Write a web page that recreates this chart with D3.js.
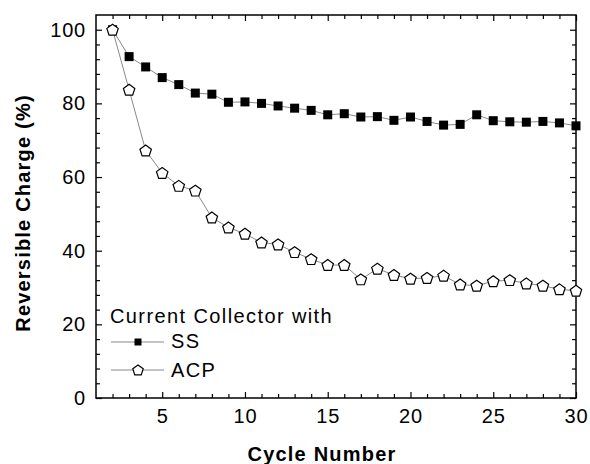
<!DOCTYPE html>
<meta charset="utf-8">
<style>

body {
  margin: 0;
  background: #fff;
}

text {
  font-family: "Liberation Sans", Arial, Helvetica, sans-serif;
  fill: #000;
}

.tick text {
  font-size: 20px;
  letter-spacing: 0.8px;
}

.domain {
  display: none;
}

.tick line {
  stroke: #000;
  stroke-width: 1.2px;
}

.series {
  fill: none;
  stroke: #6a6a6a;
  stroke-width: 0.8px;
}

.title {
  font-weight: bold;
  font-size: 20px;
  letter-spacing: 1.2px;
  text-anchor: middle;
}

.legend {
  font-size: 20px;
  letter-spacing: 1.4px;
}

</style>
<svg width=590 height=464></svg>
<script src='https://cdn.jsdelivr.net/npm/d3@7'></script>
<script>

// Cycle numbers 2..30
const cycles = [2, 3, 4, 5, 6, 7, 8, 9, 10, 11, 12, 13, 14, 15, 16,
                17, 18, 19, 20, 21, 22, 23, 24, 25, 26, 27, 28, 29, 30];

const ssValues = [100, 92.7, 89.9, 87.0, 85.1, 82.8, 82.5, 80.3, 80.4, 80.0, 79.3, 78.7, 78.1, 76.9, 77.2,
                  76.3, 76.4, 75.4, 76.3, 75.1, 74.1, 74.3, 76.9, 75.3, 75.0, 74.9, 75.1, 74.7, 73.9];

const acpValues = [100, 83.7, 67.2, 61.1, 57.6, 56.3, 49.0, 46.3, 44.6, 42.2, 41.7, 39.6, 37.7, 36.1, 36.1,
                   32.2, 35.1, 33.4, 32.4, 32.6, 33.2, 30.8, 30.5, 31.7, 32.0, 31.1, 30.5, 29.5, 29.1];

const xMajor = [5, 10, 15, 20, 25, 30];
const yMajor = [0, 20, 40, 60, 80, 100];
const seriesNames = ["SS", "ACP"];

const plotLeft = 96, plotTop = 15, plotRight = 576, plotBottom = 398;
const majorTick = 6, minorTick = 4;

let svg = d3.select("svg");

let x = d3.scaleLinear().domain([1, 30]).range([plotLeft, plotRight]);
let y = d3.scaleLinear().domain([0, 104]).range([plotBottom, plotTop]);

const xMinor = d3.range(2, 31).filter(d => d % 5 !== 0);
const yMinor = d3.range(4, 104, 4).filter(d => d % 20 !== 0);

// axes, ticks pointing inward on all four sides
svg.append("g")
  .attr("transform", "translate(0," + plotBottom + ")")
  .call(d3.axisBottom(x).tickValues(xMajor).tickSize(-majorTick).tickPadding(11).tickFormat(d3.format("d")));
svg.append("g")
  .attr("transform", "translate(0," + plotBottom + ")")
  .call(d3.axisBottom(x).tickValues(xMinor).tickSize(-minorTick).tickFormat(""));
svg.append("g")
  .attr("transform", "translate(0," + plotTop + ")")
  .call(d3.axisTop(x).tickValues(xMajor).tickSize(-majorTick).tickFormat(""));
svg.append("g")
  .attr("transform", "translate(0," + plotTop + ")")
  .call(d3.axisTop(x).tickValues(xMinor).tickSize(-minorTick).tickFormat(""));

svg.append("g")
  .attr("transform", "translate(" + plotLeft + ",0)")
  .call(d3.axisLeft(y).tickValues(yMajor).tickSize(-majorTick).tickPadding(10).tickFormat(d3.format("d")));
svg.append("g")
  .attr("transform", "translate(" + plotLeft + ",0)")
  .call(d3.axisLeft(y).tickValues(yMinor).tickSize(-minorTick).tickFormat(""));
svg.append("g")
  .attr("transform", "translate(" + plotRight + ",0)")
  .call(d3.axisRight(y).tickValues(yMajor).tickSize(-majorTick).tickFormat(""));
svg.append("g")
  .attr("transform", "translate(" + plotRight + ",0)")
  .call(d3.axisRight(y).tickValues(yMinor).tickSize(-minorTick).tickFormat(""));

svg.selectAll("g").attr("font-family", null).attr("font-size", null);

// frame
svg.append("rect")
  .attr("x", plotLeft)
  .attr("y", plotTop)
  .attr("width", plotRight - plotLeft)
  .attr("height", plotBottom - plotTop)
  .attr("fill", "none")
  .attr("stroke", "#000")
  .attr("stroke-width", 1.5);

// series
function pentagon(r) {
  let pts = d3.range(5).map(k => {
    let a = (-90 + k * 72) * Math.PI / 180;
    return [r * Math.cos(a), r * Math.sin(a)];
  });
  return "M" + pts.map(p => p[0].toFixed(2) + "," + p[1].toFixed(2)).join("L") + "Z";
}

let line = d3.line().x(d => x(d[0])).y(d => y(d[1]));

let ssData = cycles.map((c, i) => [c, ssValues[i]]);
let acpData = cycles.map((c, i) => [c, acpValues[i]]);

svg.append("path").attr("class", "series").attr("d", line(ssData));
svg.append("path").attr("class", "series").attr("d", line(acpData));

const sq = 9;
svg.append("g").selectAll("rect")
  .data(ssData)
  .enter().append("rect")
  .attr("x", d => x(d[0]) - sq / 2)
  .attr("y", d => y(d[1]) - sq / 2)
  .attr("width", sq)
  .attr("height", sq)
  .attr("fill", "#000");

svg.append("g").selectAll("path")
  .data(acpData)
  .enter().append("path")
  .attr("transform", d => "translate(" + x(d[0]) + "," + (y(d[1]) + 0.5) + ")")
  .attr("d", pentagon(6))
  .attr("fill", "#fff")
  .attr("stroke", "#000")
  .attr("stroke-width", 1.2);

// axis titles
svg.append("text")
  .attr("class", "title")
  .attr("x", 322)
  .attr("y", 461)
  .text("Cycle Number");

svg.append("text")
  .attr("class", "title")
  .attr("transform", "translate(30,213) rotate(-90)")
  .text("Reversible Charge (%)");

// legend
svg.append("text")
  .attr("class", "legend")
  .attr("x", 110)
  .attr("y", 323)
  .text("Current Collector with");

let legendRows = [{name: seriesNames[0], y: 342, base: 348}, {name: seriesNames[1], y: 370, base: 377}];
legendRows.forEach((row, i) => {
  svg.append("line")
    .attr("x1", 111).attr("x2", 164)
    .attr("y1", row.y).attr("y2", row.y)
    .attr("stroke", "#6a6a6a")
    .attr("stroke-width", 0.8);
  if (i === 0) {
    svg.append("rect")
      .attr("x", 138 - 3.5).attr("y", row.y - 3.5)
      .attr("width", 7).attr("height", 7)
      .attr("fill", "#000");
  } else {
    svg.append("path")
      .attr("transform", "translate(138," + (row.y + 0.5) + ")")
      .attr("d", pentagon(5.5))
      .attr("fill", "#fff")
      .attr("stroke", "#000")
      .attr("stroke-width", 1.2);
  }
  svg.append("text")
    .attr("class", "legend")
    .attr("x", 171)
    .attr("y", row.base)
    .text(row.name);
});

</script>
